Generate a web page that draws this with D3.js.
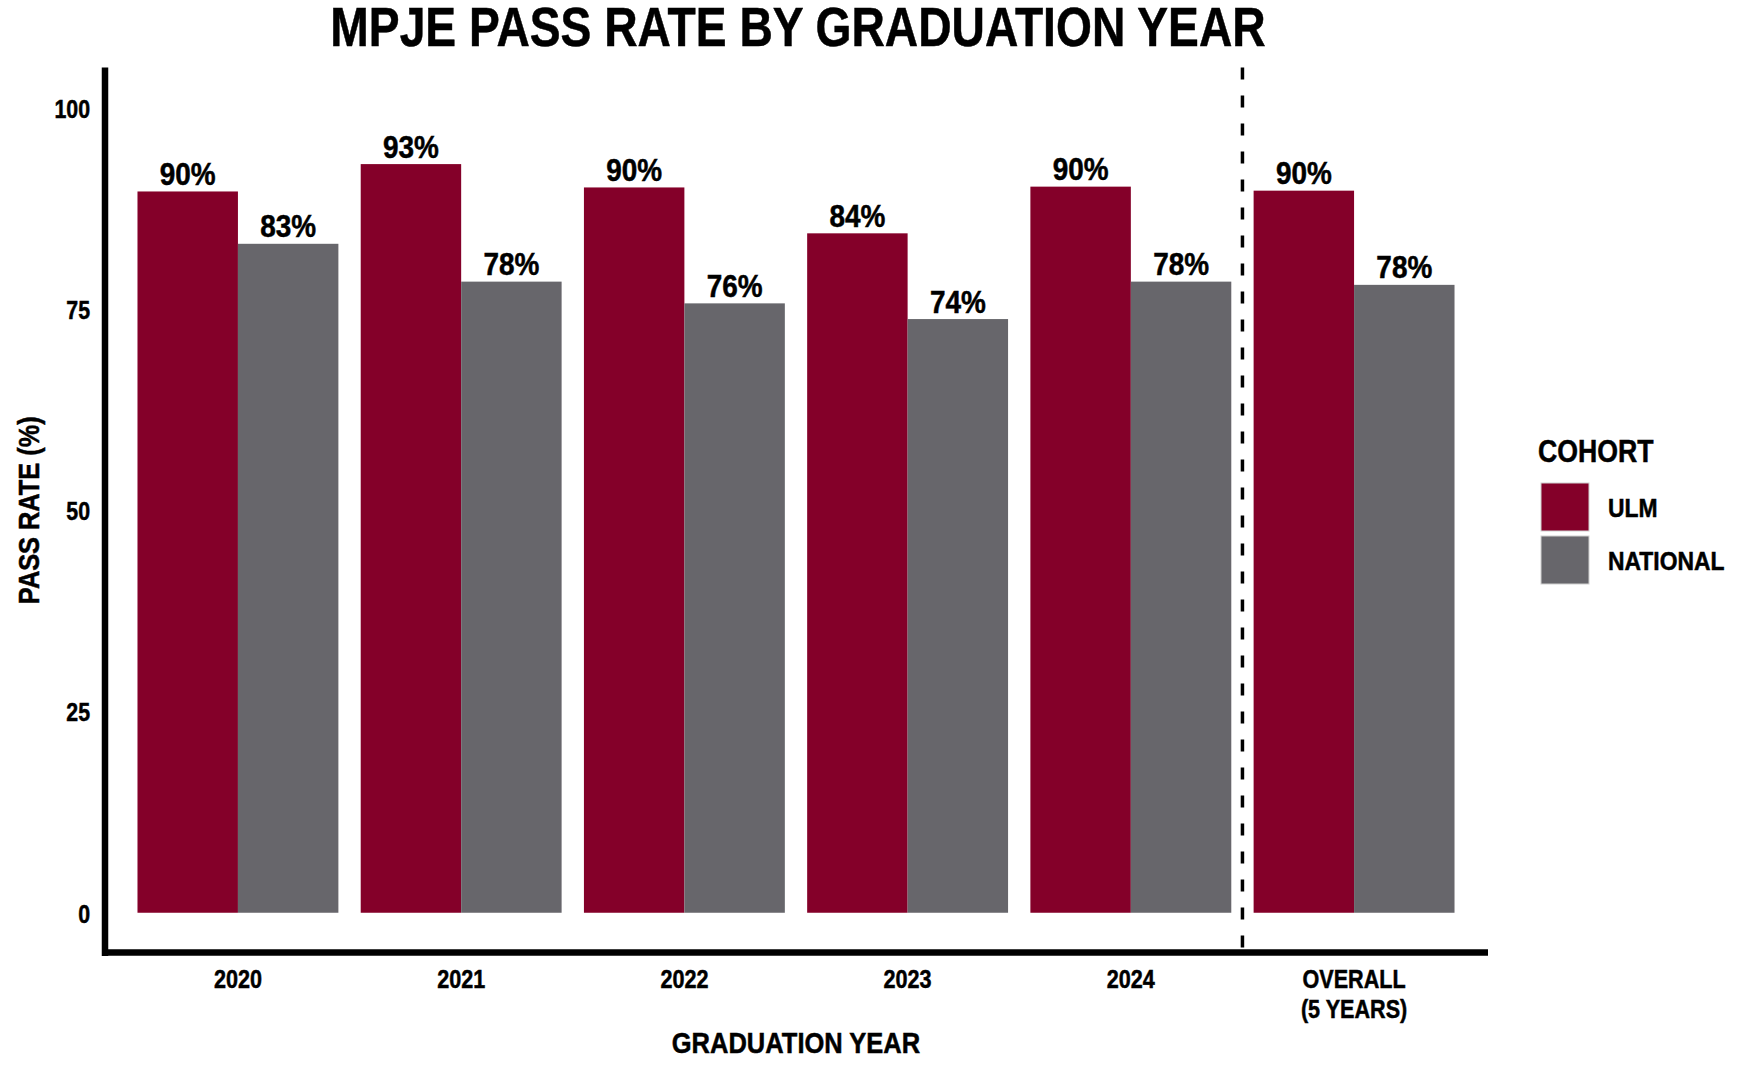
<!DOCTYPE html>
<html>
<head>
<meta charset="utf-8">
<script src="https://cdn.jsdelivr.net/npm/d3@7"></script>
<style>
  html, body { margin: 0; padding: 0; background: #fff; }
  svg text { font-family: "Liberation Sans", Arial, sans-serif; font-weight: bold; fill: #000; stroke: #000; stroke-width: 0.5px; }
</style>
</head>
<body>
<div id="chart"></div>
<script>
// values
const categories = ["2020", "2021", "2022", "2023", "2024", "OVERALL\n(5 YEARS)"];
const cohorts = ["ULM", "NATIONAL"];
const ulmRates = [89.6, 93.0, 90.1, 84.4, 90.2, 89.7];
const nationalRates = [83.1, 78.4, 75.7, 73.75, 78.4, 78.0];
const yTicks = [0, 25, 50, 75, 100];

const colors = { "ULM": "#840029", "NATIONAL": "#67666b" };

const width = 1760, height = 1076;
const plot = { left: 104, right: 1488, top: 67.5, bottom: 953 };

// no condensed face installed, so squeeze the regular bold one
function narrow(sel, k) {
  k = k || 0.82;
  sel.each(function() {
    const len = this.getComputedTextLength();
    this.setAttribute("textLength", len * k);
    this.setAttribute("lengthAdjust", "spacingAndGlyphs");
  });
}

const svg = d3.select("#chart").append("svg")
    .attr("width", width)
    .attr("height", height);

const x = d3.scaleBand()
    .domain(categories)
    .range([plot.left, plot.right])
    .paddingInner(0.1)
    .paddingOuter(0.15);

const xSub = d3.scaleBand()
    .domain(cohorts)
    .range([0, x.bandwidth()]);

const y = d3.scaleLinear()
    .domain([-5, 105])
    .range([plot.bottom, plot.top]);

// one record per bar
const bars = [];
categories.forEach((c, i) => {
  bars.push({ cat: c, cohort: "ULM", value: ulmRates[i] });
  bars.push({ cat: c, cohort: "NATIONAL", value: nationalRates[i] });
});

svg.append("g").selectAll("rect")
  .data(bars)
  .enter().append("rect")
    .attr("x", d => x(d.cat) + xSub(d.cohort))
    .attr("width", xSub.bandwidth())
    .attr("y", d => y(d.value))
    .attr("height", d => y(0) - y(d.value))
    .attr("fill", d => colors[d.cohort]);

svg.append("g").selectAll("text")
  .data(bars)
  .enter().append("text")
    .attr("x", d => x(d.cat) + xSub(d.cohort) + xSub.bandwidth() / 2)
    .attr("y", d => y(d.value) - 6.5)
    .attr("text-anchor", "middle")
    .style("font-size", "31px")
    .text(d => Math.round(d.value) + "%")
    .call(narrow, 0.9);

// dashed divider before the overall group
const divX = (x(categories[4]) + x.bandwidth() + x(categories[5])) / 2;
svg.append("line")
    .attr("x1", divX).attr("x2", divX)
    .attr("y1", plot.top).attr("y2", plot.bottom)
    .attr("stroke", "#000")
    .attr("stroke-width", 3.5)
    .attr("stroke-dasharray", "12,16");

// y axis
const yAxis = svg.append("g")
    .attr("transform", "translate(" + plot.left + ",0)")
    .call(d3.axisLeft(y).tickValues(yTicks).tickSize(0).tickPadding(14));
yAxis.select(".domain").remove();
yAxis.selectAll("text")
    .style("font-size", "26px")
    .attr("dy", "0.36em")
    .call(narrow, 0.82);

// x axis
const xAxis = svg.append("g")
    .attr("transform", "translate(0," + plot.bottom + ")")
    .call(d3.axisBottom(x).tickSize(0).tickFormat(""));
xAxis.select(".domain").remove();
xAxis.selectAll(".tick").append("text")
    .attr("text-anchor", "middle")
    .style("font-size", "26px")
    .each(function(d) {
      const lines = d.split("\n");
      d3.select(this).selectAll("tspan")
        .data(lines)
        .enter().append("tspan")
          .attr("x", 0)
          .attr("y", (l, i) => 35 + i * 29.5)
          .text(l => l)
          .call(narrow, 0.83);
    });

// axis lines
svg.append("line")
    .attr("x1", plot.left + 1).attr("x2", plot.left + 1)
    .attr("y1", plot.top).attr("y2", plot.bottom + 3)
    .attr("stroke", "#000").attr("stroke-width", 6.5);
svg.append("line")
    .attr("x1", plot.left - 2).attr("x2", plot.right)
    .attr("y1", plot.bottom - 0.5).attr("y2", plot.bottom - 0.5)
    .attr("stroke", "#000").attr("stroke-width", 6.5);

// titles
svg.append("text")
    .attr("x", 798)
    .attr("y", 46)
    .attr("text-anchor", "middle")
    .style("font-size", "55px")
    .text("MPJE PASS RATE BY GRADUATION YEAR")
    .call(narrow, 0.84);

svg.append("text")
    .attr("x", (plot.left + plot.right) / 2)
    .attr("y", 1053)
    .attr("text-anchor", "middle")
    .style("font-size", "30px")
    .text("GRADUATION YEAR")
    .call(narrow, 0.85);

svg.append("text")
    .attr("transform", "translate(39," + (plot.top + plot.bottom) / 2 + ")rotate(-90)")
    .attr("text-anchor", "middle")
    .style("font-size", "30px")
    .text("PASS RATE (%)")
    .call(narrow, 0.845);

// legend
const legend = svg.append("g").attr("transform", "translate(1538,0)");
legend.append("text")
    .attr("x", 0).attr("y", 462)
    .style("font-size", "31px")
    .text("COHORT")
    .call(narrow, 0.86);
const items = legend.selectAll("g.item")
  .data(cohorts)
  .enter().append("g")
    .attr("class", "item")
    .attr("transform", (d, i) => "translate(3," + (483 + i * 53) + ")");
items.append("rect")
    .attr("width", 48).attr("height", 48)
    .attr("fill", d => colors[d])
    .attr("stroke", "#d0d0d0").attr("stroke-width", 1);
items.append("text")
    .attr("x", 67).attr("y", 34)
    .style("font-size", "26px")
    .text(d => d)
    .call(narrow, 0.88);
</script>
</body>
</html>
